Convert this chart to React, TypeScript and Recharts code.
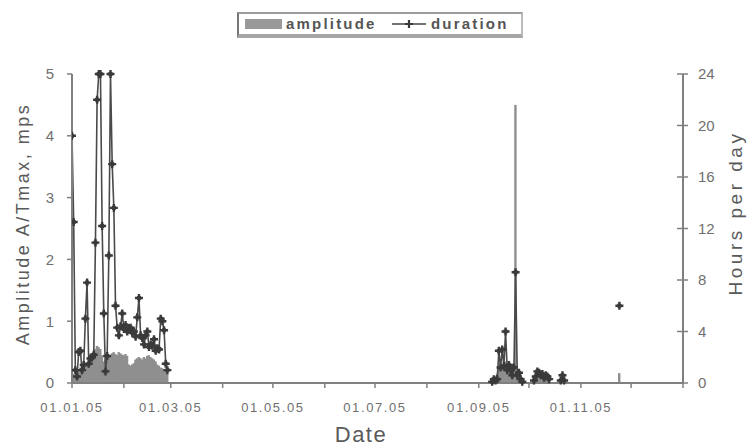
import React from 'react';
import { ComposedChart, Bar, Line, XAxis, YAxis } from 'recharts';

// x axis: day of year 2005 (0 = 01.01.05)
const monthTicks = [0, 31, 59, 90, 120, 151, 181, 212, 243, 273, 304, 334, 365];
const monthTickLabels = ['01.01.05', '', '01.03.05', '', '01.05.05', '', '01.07.05', '', '01.09.05', '', '01.11.05', '', ''];
const amplitudeTicks = [0, 1, 2, 3, 4, 5];
const hoursTicks = [0, 4, 8, 12, 16, 20, 24];

// January - February block (starting 01.01.05)
const winterStartDay = 0;
const winterAmplitude = [
  0.12, 0.15, 0.10, 0.14, 0.20, 0.25, 0.22, 0.28, 0.30, 0.30,
  0.32, 0.35, 0.40, 0.50, 0.55, 0.60, 0.58, 0.55, 0.45, 0.35,
  0.38, 0.40, 0.42, 0.45, 0.48, 0.50, 0.47, 0.45, 0.50, 0.48,
  0.46, 0.45, 0.47, 0.44, 0.30, 0.28, 0.30, 0.32, 0.38, 0.40,
  0.42, 0.40, 0.38, 0.42, 0.40, 0.44, 0.45, 0.42, 0.40, 0.38,
  0.35, 0.30, 0.28, 0.25, 0.24, 0.22, 0.20, 0.15,
];
const winterDuration = [
  19.2, 12.5, 1.0, 0.5, 2.4, 2.5, 1.0, 1.4, 5.0, 7.8,
  1.5, 1.9, 2.0, 2.2, 10.9, 22.0, 24.0, 24.0, 12.2, 5.4,
  0.9, 2.1, 9.9, 24.0, 17.0, 13.6, 6.0, 4.3, 3.7, 4.4,
  5.4, 4.2, 4.5, 4.0, 4.2, 4.3, 3.9, 4.0, 3.6, 5.1,
  6.6, 3.7, 3.5, 3.0, 3.7, 4.0, 2.8, 3.0, 2.9, 3.4,
  2.5, 2.7, 2.6, 5.0, 4.8, 4.1, 1.5, 1.0,
];

// September - October block (starting 09.09.05)
const autumnStartDay = 251;
const autumnAmplitude = [
  0.05, 0.08, 0.10, 0.15, 0.25, 0.20, 0.30, 0.25, 0.35, 0.20,
  0.25, 0.20, 0.15, 0.30, 4.50, 0.20, 0.15, 0.10, 0.05, null,
  null, null, null, null, null, 0.05, 0.08, 0.12, 0.10, 0.08,
  0.10, 0.06, 0.08, 0.07, 0.05, null, null, null, null, null,
  null, 0.05, 0.10, 0.05,
];
const autumnDuration = [
  0.1, 0.3, 0.2, 0.3, 2.5, 1.2, 2.6, 1.3, 4.0, 1.0,
  1.4, 1.0, 0.6, 1.2, 8.6, 0.6, 0.8, 0.3, 0.1, null,
  null, null, null, null, null, 0.2, 0.5, 0.9, 0.8, 0.6,
  0.7, 0.4, 0.6, 0.5, 0.3, null, null, null, null, null,
  null, 0.2, 0.6, 0.2,
];

// single late record
const lateDays = [327];
const lateAmplitude = [0.16];
const lateDuration = [6.0];

type Row = { day: number; amplitude: number | null; duration: number | null };
const rows: Row[] = [];
for (let d = 0; d <= 364; d++) rows.push({ day: d, amplitude: null, duration: null });
winterAmplitude.forEach((v, i) => { rows[winterStartDay + i].amplitude = v; });
winterDuration.forEach((v, i) => { rows[winterStartDay + i].duration = v; });
autumnAmplitude.forEach((v, i) => { rows[autumnStartDay + i].amplitude = v; });
autumnDuration.forEach((v, i) => { rows[autumnStartDay + i].duration = v; });
lateDays.forEach((d, i) => { rows[d].amplitude = lateAmplitude[i]; rows[d].duration = lateDuration[i]; });

const AXIS = '#808080';
const TEXT = '#707070';
const FONT = '"Liberation Sans", Arial, sans-serif';

const XTick = (p: any) => {
  const idx = monthTicks.indexOf(p.payload.value);
  const label = idx >= 0 ? monthTickLabels[idx] : '';
  return (
    <text x={p.x} y={p.y + 22} textAnchor="middle" fontSize={13} letterSpacing={1.6}
      fontFamily={FONT} fill={TEXT}>{label}</text>
  );
};

const LeftTick = (p: any) => (
  <text x={p.x} y={p.y} dy="0.36em" textAnchor="end" fontSize={15} fontFamily={FONT} fill={TEXT}>
    {p.payload.value}
  </text>
);

const RightTick = (p: any) => {
  const ax = p.x - 15;
  return (
    <g>
      <line x1={ax - 6} x2={ax + 5} y1={p.y} y2={p.y} stroke={AXIS} strokeWidth={1.5} />
      <text x={ax + 15} y={p.y} dy="0.36em" textAnchor="start" fontSize={15} fontFamily={FONT} fill={TEXT}>
        {p.payload.value}
      </text>
    </g>
  );
};

const AmpBar = (p: any) => {
  if (p.height == null || !(p.height > 0) || p.x == null) return <g />;
  const w = 2.4;
  return <rect x={p.x + p.width / 2 - w / 2} y={p.y} width={w} height={p.height} fill="#8f8f8f" />;
};

const Marker = (p: any) => {
  const { cx, cy, value, index } = p;
  if (cx == null || cy == null || value == null || Number.isNaN(cy)) return <g key={`m${index}`} />;
  return (
    <g key={`m${index}`}>
      <path d={`M${cx - 4},${cy}H${cx + 4}M${cx},${cy - 4}V${cy + 4}`} stroke="#3a3a3a" strokeWidth={2.4} />
      <rect x={cx - 2} y={cy - 2} width={4} height={4} fill="#3a3a3a" />
    </g>
  );
};

const LegendBox = () => (
  <div style={{
    position: 'absolute', left: 237, top: 12, width: 286, height: 26, boxSizing: 'border-box',
    borderTop: '2px solid #9c9c9c', borderLeft: '2px solid #777', borderRight: '2px solid #bbb',
    borderBottom: '4px solid #a6a6a6', background: '#fff', fontFamily: FONT,
  }}>
    <div style={{ position: 'absolute', left: 6, top: 5, width: 37, height: 10, background: '#999' }} />
    <div style={{ position: 'absolute', left: 47, top: 0, fontSize: 15, fontWeight: 'bold', letterSpacing: 2.2,
      color: '#555', lineHeight: '20px' }}>amplitude</div>
    <svg style={{ position: 'absolute', left: 152, top: 3 }} width={36} height={14}>
      <line x1={1} x2={35} y1={7} y2={7} stroke="#444" strokeWidth={1.6} />
      <path d="M14,7H22M18,3V11" stroke="#3a3a3a" strokeWidth={2.2} />
    </svg>
    <div style={{ position: 'absolute', left: 192, top: 0, fontSize: 15, fontWeight: 'bold', letterSpacing: 2.2,
      color: '#555', lineHeight: '20px' }}>duration</div>
  </div>
);

export default function App() {
  return (
    <div style={{ position: 'absolute', left: 0, top: 0, width: 752, height: 448, background: '#fff' }}>
      <ComposedChart width={752} height={448} data={rows}
        margin={{ top: 74, right: 0, bottom: 0, left: 0 }}>
        <XAxis dataKey="day" type="number" domain={[0, 365]} ticks={monthTicks} interval={0}
          allowDataOverflow height={65} axisLine={{ stroke: AXIS, strokeWidth: 2 }}
          tickLine={{ stroke: AXIS, strokeWidth: 1.5 }} tickSize={5} tick={<XTick />} />
        <YAxis yAxisId="amp" orientation="left" domain={[0, 5]} ticks={amplitudeTicks} width={72}
          axisLine={{ stroke: AXIS, strokeWidth: 2 }} tickLine={{ stroke: AXIS, strokeWidth: 1.5 }}
          tickSize={5} tickMargin={13} tick={<LeftTick />} interval={0} />
        <YAxis yAxisId="hours" orientation="right" domain={[0, 24]} ticks={hoursTicks} width={69}
          axisLine={{ stroke: AXIS, strokeWidth: 2 }} tickLine={false}
          tickSize={5} tickMargin={10} tick={<RightTick />} interval={0} />
        <Bar yAxisId="amp" dataKey="amplitude" fill="#8f8f8f" shape={<AmpBar />} isAnimationActive={false} />
        <Line yAxisId="hours" dataKey="duration" stroke="#4a4a4a" strokeWidth={1.6} connectNulls={false}
          dot={Marker} activeDot={false} isAnimationActive={false} />
        <text x={23} y={224} transform="rotate(-90 23 224)" textAnchor="middle" dominantBaseline="central"
          fontSize={18} letterSpacing={2.5} fontFamily={FONT} fill="#5a5a5a">Amplitude A/Tmax, mps</text>
        <text x={735} y={213} transform="rotate(-90 735 213)" textAnchor="middle" dominantBaseline="central"
          fontSize={19} letterSpacing={3.5} fontFamily={FONT} fill="#5a5a5a">Hours per day</text>
        <text x={361} y={442} textAnchor="middle"
          fontSize={22} letterSpacing={1.5} fontFamily={FONT} fill="#5a5a5a">Date</text>
      </ComposedChart>
      <LegendBox />
    </div>
  );
}
